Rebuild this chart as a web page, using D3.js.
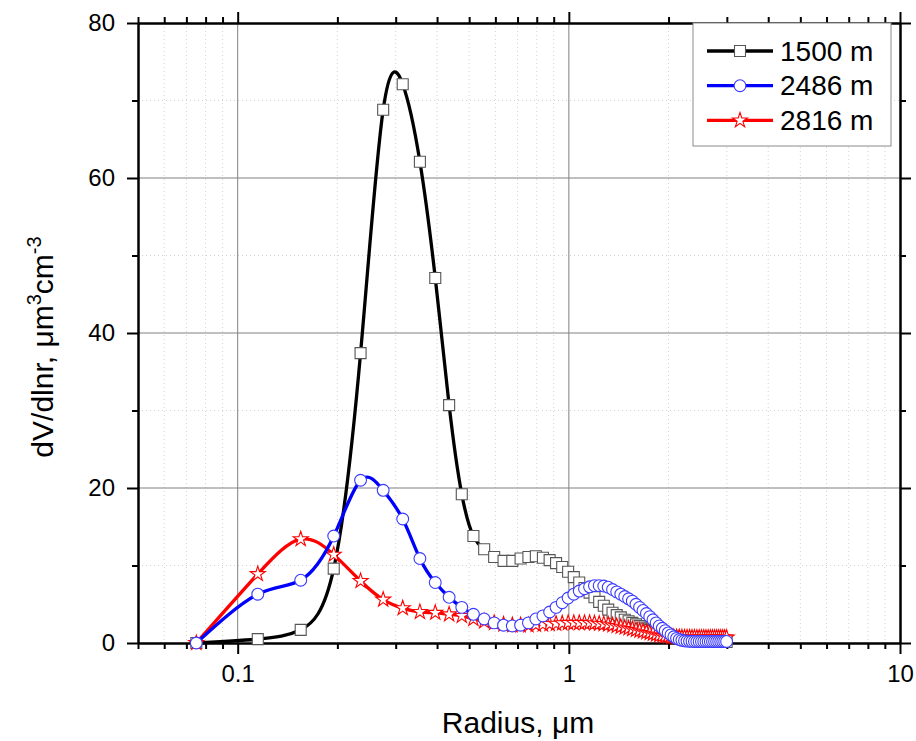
<!DOCTYPE html>
<html lang="en">
<head>
<meta charset="UTF-8">
<title>dV/dlnr</title>
<style>
  body { margin: 0; background: #fff; }
  svg { display: block; font-family: Arial, "Liberation Sans", sans-serif; }
</style>
</head>
<body>
<svg></svg>
<script src="https://d3js.org/d3.v7.min.js"></script>
<script>
// radius bins, um
var radius = [0.075, 0.115, 0.155, 0.195, 0.235, 0.275, 0.315, 0.355, 0.395, 0.435,
  0.475, 0.515, 0.555, 0.595, 0.635, 0.675, 0.715, 0.755, 0.795, 0.835,
  0.875, 0.915, 0.955, 0.995, 1.035, 1.075, 1.115, 1.155, 1.195, 1.235,
  1.275, 1.315, 1.355, 1.395, 1.435, 1.475, 1.515, 1.555, 1.595, 1.635,
  1.675, 1.715, 1.755, 1.795, 1.835, 1.875, 1.915, 1.955, 1.995, 2.035,
  2.075, 2.115, 2.155, 2.195, 2.235, 2.275, 2.315, 2.355, 2.395, 2.435,
  2.475, 2.515, 2.555, 2.595, 2.635, 2.675, 2.715, 2.755, 2.795, 2.835,
  2.875, 2.915, 2.955, 2.995];

var v1500 = [0.0, 0.5, 1.7, 9.6, 37.4, 68.8, 72.1, 62.1, 47.1, 30.7,
  19.2, 13.8, 12.1, 11.1, 10.6, 10.6, 10.9, 11.1, 11.2, 11.0,
  10.7, 10.3, 9.8, 9.2, 8.5, 7.8, 7.1, 6.5, 5.9, 5.3,
  4.8, 4.3, 3.9, 3.6, 3.3, 3.0, 2.8, 2.6, 2.4, 2.2,
  2.0, 1.85, 1.7, 1.55, 1.4, 1.3, 1.2, 1.1, 1.0, 0.9,
  0.82, 0.75, 0.68, 0.62, 0.56, 0.5, 0.46, 0.42, 0.38, 0.35,
  0.32, 0.3, 0.28, 0.26, 0.24, 0.22, 0.2, 0.19, 0.18, 0.17,
  0.16, 0.15, 0.14, 0.13];

var v2486 = [0.0, 6.3, 8.1, 13.8, 21.0, 19.7, 16.0, 10.9, 7.8, 5.9,
  4.6, 3.7, 3.1, 2.6, 2.3, 2.2, 2.3, 2.6, 3.1, 3.5,
  4.0, 4.6, 5.2, 5.8, 6.3, 6.7, 7.0, 7.25, 7.4, 7.4,
  7.35, 7.2, 6.9, 6.6, 6.3, 6.0, 5.7, 5.4, 5.0, 4.6,
  4.2, 3.8, 3.4, 3.0, 2.6, 2.2, 1.9, 1.6, 1.3, 1.05,
  0.8, 0.6, 0.45, 0.34, 0.28, 0.24, 0.22, 0.21, 0.2, 0.2,
  0.2, 0.2, 0.2, 0.2, 0.2, 0.2, 0.2, 0.2, 0.2, 0.2,
  0.2, 0.2, 0.2, 0.2];

var v2816 = [0.0, 8.9, 13.4, 11.4, 8.0, 5.6, 4.5, 4.0, 3.9, 3.7,
  3.5, 3.1, 2.8, 2.6, 2.4, 2.3, 2.3, 2.3, 2.35, 2.4,
  2.45, 2.5, 2.55, 2.6, 2.6, 2.6, 2.6, 2.6, 2.55, 2.5,
  2.45, 2.4, 2.3, 2.2, 2.1, 2.0, 1.9, 1.8, 1.7, 1.6,
  1.5, 1.4, 1.3, 1.2, 1.1, 1.0, 0.95, 0.9, 0.85, 0.8,
  0.78, 0.76, 0.75, 0.74, 0.73, 0.72, 0.72, 0.71, 0.71, 0.7,
  0.7, 0.7, 0.7, 0.7, 0.7, 0.7, 0.7, 0.7, 0.7, 0.7,
  0.7, 0.7, 0.7, 0.7];

var seriesNames = ['1500 m', '2486 m', '2816 m'];
var xMajor = [0.1, 1, 10];
var xMinor = [0.05, 0.06, 0.07, 0.08, 0.09, 0.2, 0.3, 0.4, 0.5, 0.6, 0.7, 0.8, 0.9,
  2, 3, 4, 5, 6, 7, 8, 9];
var yMajor = [0, 20, 40, 60, 80];
var yMinor = [10, 30, 50, 70];

var svgWidth = 916, svgHeight = 741;
var pLeft = 138, pRight = 900, pTop = 23, pBottom = 643;

var svg = d3.select('svg').attr('width', svgWidth).attr('height', svgHeight);

var x = d3.scaleLog().domain([0.05, 10]).range([pLeft, pRight]);
var y = d3.scaleLinear().domain([0, 80]).range([pBottom, pTop]);

// grid
var grid = svg.append('g');
grid.selectAll('.gxm').data(xMinor.filter(d => d > 0.05)).enter().append('line')
  .attr('x1', d => x(d)).attr('x2', d => x(d)).attr('y1', pTop).attr('y2', pBottom)
  .attr('stroke', '#d2d2d2').attr('stroke-dasharray', '1,3');
grid.selectAll('.gym').data(yMinor).enter().append('line')
  .attr('x1', pLeft).attr('x2', pRight).attr('y1', d => y(d)).attr('y2', d => y(d))
  .attr('stroke', '#d2d2d2').attr('stroke-dasharray', '1,3');
grid.selectAll('.gxM').data(xMajor.filter(d => d < 10)).enter().append('line')
  .attr('x1', d => x(d)).attr('x2', d => x(d)).attr('y1', pTop).attr('y2', pBottom)
  .attr('stroke', '#808080');
grid.selectAll('.gyM').data(yMajor.filter(d => d > 0 && d < 80)).enter().append('line')
  .attr('x1', pLeft).attr('x2', pRight).attr('y1', d => y(d)).attr('y2', d => y(d))
  .attr('stroke', '#808080');

// axes
function styleAxis(g) {
  g.attr('font-size', 24).attr('font-family', 'Arial, "Liberation Sans", sans-serif');
  g.selectAll('path, line').attr('stroke', '#000').attr('stroke-width', 2);
  g.selectAll('text').attr('fill', '#000');
}
var fmt = d => String(d);

svg.append('g').attr('transform', 'translate(0,' + pBottom + ')')
  .call(d3.axisBottom(x).tickValues(xMinor).tickSize(6).tickSizeOuter(0).tickFormat(''))
  .call(styleAxis);
svg.append('g').attr('transform', 'translate(0,' + pBottom + ')')
  .call(d3.axisBottom(x).tickValues(xMajor).tickSize(11).tickSizeOuter(0).tickPadding(11).tickFormat(fmt))
  .call(styleAxis);
svg.append('g').attr('transform', 'translate(0,' + pTop + ')')
  .call(d3.axisTop(x).tickValues(xMinor).tickSize(6).tickSizeOuter(0).tickFormat(''))
  .call(styleAxis);
svg.append('g').attr('transform', 'translate(0,' + pTop + ')')
  .call(d3.axisTop(x).tickValues(xMajor).tickSize(11).tickSizeOuter(0).tickFormat(''))
  .call(styleAxis);
svg.append('g').attr('transform', 'translate(' + pLeft + ',0)')
  .call(d3.axisLeft(y).tickValues(yMinor).tickSize(6).tickSizeOuter(0).tickFormat(''))
  .call(styleAxis);
svg.append('g').attr('transform', 'translate(' + pLeft + ',0)')
  .call(d3.axisLeft(y).tickValues(yMajor).tickSize(11).tickSizeOuter(0).tickPadding(12).tickFormat(fmt))
  .call(styleAxis);
svg.append('g').attr('transform', 'translate(' + pRight + ',0)')
  .call(d3.axisRight(y).tickValues(yMinor).tickSize(6).tickSizeOuter(0).tickFormat(''))
  .call(styleAxis);
svg.append('g').attr('transform', 'translate(' + pRight + ',0)')
  .call(d3.axisRight(y).tickValues(yMajor).tickSize(11).tickSizeOuter(0).tickFormat(''))
  .call(styleAxis);

// series
var series = [
  { name: seriesNames[0], values: v1500, color: '#000000', edge: '#555555', symbol: d3.symbolSquare, size: 121 },
  { name: seriesNames[1], values: v2486, color: '#0000ff', edge: '#3a3aff', symbol: d3.symbolCircle, size: 110 },
  { name: seriesNames[2], values: v2816, color: '#ff0000', edge: '#ff0000', symbol: d3.symbolStar, size: 70 }
];

var line = d3.line()
  .x(d => x(d[0]))
  .y(d => y(d[1]))
  .curve(d3.curveNatural);

// draw order: black, red, blue
[series[0], series[2], series[1]].forEach(s => {
  var pts = radius.map((r, i) => [r, s.values[i]]);
  var g = svg.append('g');
  g.append('path').datum(pts)
    .attr('d', line)
    .attr('fill', 'none')
    .attr('stroke', s.color)
    .attr('stroke-width', 3.3)
    .attr('stroke-linejoin', 'round');
  g.selectAll('path.mk').data(pts).enter().append('path')
    .attr('class', 'mk')
    .attr('transform', d => 'translate(' + x(d[0]) + ',' + y(d[1]) + ')')
    .attr('d', d3.symbol().type(s.symbol).size(s.size))
    .attr('fill', '#fff')
    .attr('stroke', s.edge)
    .attr('stroke-width', 1.1);
});

// legend
var lg = svg.append('g');
lg.append('rect').attr('x', 693).attr('y', 23).attr('width', 198).attr('height', 123)
  .attr('fill', '#fff').attr('stroke', '#8a8a8a').attr('stroke-width', 1);
series.forEach((s, i) => {
  var ly = 51 + i * 34.7;
  lg.append('line').attr('x1', 707).attr('x2', 773).attr('y1', ly).attr('y2', ly)
    .attr('stroke', s.color).attr('stroke-width', 3.3);
  lg.append('path').attr('transform', 'translate(740,' + ly + ')')
    .attr('d', d3.symbol().type(s.symbol).size(s.size))
    .attr('fill', '#fff').attr('stroke', s.edge).attr('stroke-width', 1.1);
  lg.append('text').attr('x', 780).attr('y', ly + 9.5)
    .style('font-size', '28px').text(s.name);
});

// axis titles
svg.append('text').attr('x', 518).attr('y', 733).attr('text-anchor', 'middle')
  .style('font-size', '30px').text('Radius, \u03bcm');

var yt = svg.append('text').attr('transform', 'translate(53,347) rotate(-90)')
  .attr('text-anchor', 'middle').style('font-size', '30px');
yt.append('tspan').text('dV/dlnr, \u03bcm');
yt.append('tspan').attr('dy', -12).style('font-size', '20px').text('3');
yt.append('tspan').attr('dy', 12).text('cm');
yt.append('tspan').attr('dy', -12).style('font-size', '20px').text('-3');
</script>
</body>
</html>
